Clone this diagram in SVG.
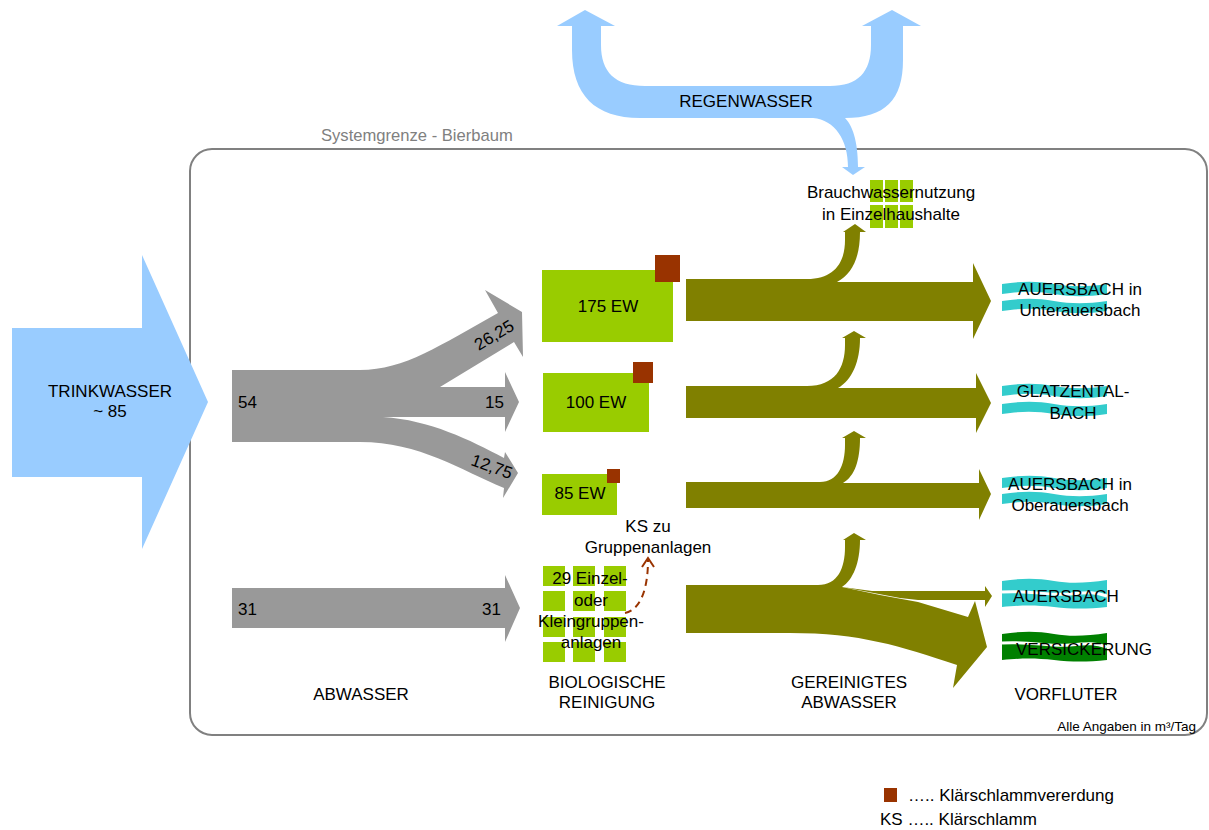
<svg xmlns="http://www.w3.org/2000/svg" width="1209" height="830" viewBox="0 0 1209 830">
  <defs>
    <style>
      text { font-family: "Liberation Sans", Arial, sans-serif; font-size: 17px; fill: #000; }
      .mid { text-anchor: middle; }
      .grey { fill: #999999; }
      .rain { fill: #99ccff; }
      .bio { fill: #99cc00; }
      .sludge { fill: #993300; }
      .clean { fill: #808000; }
      .river { fill: #33cccc; }
      .seep { fill: #008000; }
      .gap { fill: none; stroke: #ffffff; stroke-width: 3; }
      .frame { fill: none; stroke: #808080; stroke-width: 2; }
    </style>
    <!-- one wavy band of a stream symbol -->
    <path id="wave" d="M0,0 C20,-3 35,-3 52,0 S85,3 105,0 L105,10 C85,13 70,13 52,10 S20,7 0,10 Z"/>
    <!-- wide stream band -->
    <path id="band" d="M0,1 C20,-2 35,-2 52,1 S85,3 105,0 L105,27 C85,29 70,29 52,27 S20,25 0,27 Z"/>
  </defs>

  <!-- system boundary -->
  <g id="boundary">
    <rect class="frame" x="190" y="149" width="1017" height="586" rx="22" ry="22"/>
    <text x="321" y="141" style="font-size:16.6px;fill:#808080">Systemgrenze - Bierbaum</text>
  </g>

  <!-- rain water: U-shaped arrow with a branch to service-water use -->
  <g id="regenwasser">
    <path class="rain" d="M585,10 L615,26 L601,26 L601,45 C601,72 615,86 645,86 L830,86 C858,86 871,72 871,45 L871,26 L862,26 L892,10 L921,26 L903,26 L903,60 C903,100 885,118 845,118 C852,125 858,140 858,167 L865,167 L853,175 L842,167 L848,167 C848,140 835,120 813,118 L640,118 C595,118 572,95 572,50 L572,26 L557,26 Z"/>
    <text class="mid" x="746" y="107">REGENWASSER</text>
  </g>

  <!-- drinking water input -->
  <g id="trinkwasser">
    <path class="rain" d="M12,328 L142,328 L142,255 L208,402 L142,549 L142,477 L12,477 Z"/>
    <text class="mid" x="110" y="397">TRINKWASSER</text>
    <text class="mid" x="110" y="417">~ 85</text>
  </g>

  <!-- treatment plants -->
  <g id="anlage-175">
    <rect class="bio" x="542" y="270" width="131" height="72"/>
    <rect class="sludge" x="655" y="255" width="25" height="27"/>
    <text class="mid" x="608" y="312">175 EW</text>
  </g>
  <g id="anlage-100">
    <rect class="bio" x="543" y="373" width="106" height="59"/>
    <rect class="sludge" x="633" y="362" width="20" height="21"/>
    <text class="mid" x="596" y="408">100 EW</text>
  </g>
  <g id="anlage-85">
    <rect class="bio" x="542" y="474" width="75" height="41"/>
    <rect class="sludge" x="607" y="469" width="13" height="14"/>
    <text class="mid" x="580" y="499">85 EW</text>
  </g>
  <g id="kleinanlagen">
    <rect class="bio" x="543" y="566" width="22" height="20"/>
    <rect class="bio" x="573" y="566" width="22" height="20"/>
    <rect class="bio" x="604" y="566" width="22" height="20"/>
    <rect class="bio" x="543" y="591" width="22" height="20"/>
    <rect class="bio" x="573" y="591" width="22" height="20"/>
    <rect class="bio" x="604" y="591" width="22" height="20"/>
    <rect class="bio" x="543" y="617" width="22" height="20"/>
    <rect class="bio" x="573" y="617" width="22" height="20"/>
    <rect class="bio" x="604" y="617" width="22" height="20"/>
    <rect class="bio" x="543" y="642" width="22" height="20"/>
    <rect class="bio" x="573" y="642" width="22" height="20"/>
    <rect class="bio" x="604" y="642" width="22" height="20"/>
    <text class="mid" x="590" y="584">29 Einzel-</text>
    <text class="mid" x="591" y="606">oder</text>
    <text class="mid" x="591" y="627">Kleingruppen-</text>
    <text class="mid" x="591" y="648">anlagen</text>
  </g>
  <g id="ks-gruppenanlagen">
    <text class="mid" x="648" y="532">KS zu</text>
    <text class="mid" x="648" y="553">Gruppenanlagen</text>
  </g>
  <g id="brauchwasser">
    <rect class="bio" x="870" y="180" width="13" height="22"/>
    <rect class="bio" x="885" y="180" width="13" height="22"/>
    <rect class="bio" x="900" y="180" width="13" height="22"/>
    <rect class="bio" x="870" y="205" width="13" height="23"/>
    <rect class="bio" x="885" y="205" width="13" height="23"/>
    <rect class="bio" x="900" y="205" width="13" height="23"/>
    <text class="mid" x="891" y="198">Brauchwassernutzung</text>
    <text class="mid" x="891" y="220">in Einzelhaushalte</text>
  </g>

  <!-- receiving waters -->
  <g id="unterauersbach">
    <use href="#wave" class="river" x="1002" y="284"/>
    <use href="#wave" class="river" x="1002" y="301"/>
    <text class="mid" x="1080" y="295">AUERSBACH in</text>
    <text class="mid" x="1080" y="316">Unterauersbach</text>
  </g>
  <g id="glatzentalbach">
    <use href="#wave" class="river" x="1002" y="386"/>
    <use href="#wave" class="river" x="1002" y="404"/>
    <text class="mid" x="1073" y="397">GLATZENTAL-</text>
    <text class="mid" x="1073" y="419">BACH</text>
  </g>
  <g id="oberauersbach">
    <use href="#wave" class="river" x="1002" y="478"/>
    <use href="#wave" class="river" x="1002" y="494"/>
    <text class="mid" x="1070" y="490">AUERSBACH in</text>
    <text class="mid" x="1070" y="511">Oberauersbach</text>
  </g>
  <g id="auersbach">
    <use href="#band" class="river" x="1002" y="580"/>
    <path class="gap" d="M1002,592 C1030,590 1050,596 1070,594 S1095,592 1107,596"/>
    <text x="1013" y="602">AUERSBACH</text>
  </g>
  <g id="versickerung">
    <use href="#band" class="seep" x="1002" y="633"/>
    <path class="gap" d="M1002,643 C1030,641 1050,647 1070,645 S1095,643 1107,647"/>
    <text x="1016" y="655">VERSICKERUNG</text>
  </g>

  <!-- flows -->
  <g id="connectors">
    <!-- raw sewage, split to the three plants -->
    <path class="grey" d="M232,370 L360,370 C405,370 440,345 498,313 L485,290 L522,312 L523,357 L514,342 L440,387 L505,387 L505,372 L519,402 L505,432 L505,417 L383,417 C430,420 470,440 504,458 L505,452 L518,473 L503,498 L504,488 C460,470 420,442 360,442 L232,442 Z"/>
    <text x="238" y="408">54</text>
    <text x="485" y="408">15</text>
    <text class="mid" transform="translate(497,340) rotate(-31)">26,25</text>
    <text class="mid" transform="translate(490,472) rotate(20)">12,75</text>

    <path class="grey" d="M232,588 L505,588 L505,575 L520,608 L505,642 L505,628 L232,628 Z"/>
    <text x="238" y="615">31</text>
    <text x="482" y="615">31</text>

    <!-- sludge from small plants to group plants -->
    <path d="M625,613 C640,610 648,590 648,560" fill="none" stroke="#993300" stroke-width="2" stroke-dasharray="7,5"/>
    <path d="M642,567 L648,558 L654,567" fill="none" stroke="#993300" stroke-width="2"/>

    <!-- treated water -->
    <path class="clean" d="M686,279 L807,279 C835,279 845,262 845,240 L845,232 L843,232 L855,224 L866,232 L860,232 C860,258 852,274 837,282 L973,282 L973,263 L991,301 L973,339 L973,321 L686,321 Z"/>
    <path class="clean" d="M686,386 L807,386 C835,386 845,368 845,345 L845,338 L842,338 L854,331 L866,338 L860,338 C860,362 852,380 838,388 L976,388 L976,373 L991,403 L976,433 L976,418 L686,418 Z"/>
    <path class="clean" d="M686,482 L820,482 C838,482 845,465 845,445 L845,438 L842,438 L854,431 L866,438 L860,438 C860,460 855,476 843,483 L979,483 L979,469 L991,494 L979,520 L979,508 L686,508 Z"/>
    <path class="clean" d="M842,587 L872,591 L985,591 L985,586 L992,596 L985,607 L985,600 L918,600 L900,598 Z"/>
    <path class="clean" d="M686,585 L818,585 C838,585 845,568 845,547 L845,540 L843,540 L854,533 L866,540 L860,540 C860,563 853,580 842,587 L880,595 L918,602 L968,617 L975,601 L987,647 L953,688 L957,665 C900,646 860,633 790,633 L686,633 Z"/>
  </g>

  <!-- column labels -->
  <g id="labels">
    <text class="mid" x="361" y="700">ABWASSER</text>
    <text class="mid" x="607" y="688">BIOLOGISCHE</text>
    <text class="mid" x="607" y="708">REINIGUNG</text>
    <text class="mid" x="849" y="688">GEREINIGTES</text>
    <text class="mid" x="849" y="708">ABWASSER</text>
    <text class="mid" x="1066" y="700">VORFLUTER</text>
    <text x="1196" y="731" style="font-size:13.5px;text-anchor:end">Alle Angaben in m³/Tag</text>
  </g>

  <!-- legend -->
  <g id="legend">
    <rect class="sludge" x="884" y="788" width="13" height="14"/>
    <text x="908" y="801">….. Klärschlammvererdung</text>
    <text x="880" y="825">KS ….. Klärschlamm</text>
  </g>
</svg>
